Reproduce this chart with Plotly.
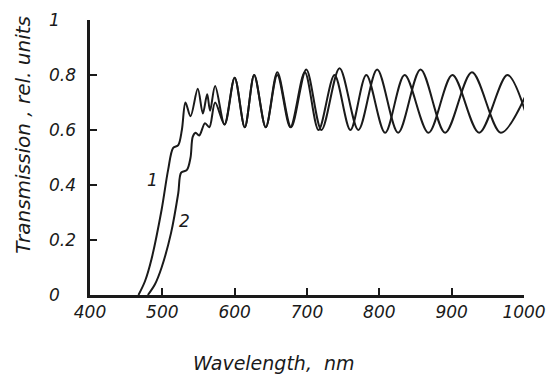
import plotly.graph_objects as go

# Curve 1
wl1 = [467, 476, 485, 499, 508, 515, 522, 527, 532, 539, 549, 556, 562, 566, 573,
       586, 600, 614, 627, 643, 659, 678, 699, 720, 745, 771, 797, 826, 857, 891,
       928, 968, 1004]
t1 = [0, 0.05, 0.13, 0.31, 0.455, 0.535, 0.545, 0.60, 0.70, 0.65, 0.75, 0.66, 0.73, 0.67, 0.76,
      0.62, 0.79, 0.61, 0.80, 0.61, 0.81, 0.61, 0.82, 0.60, 0.825, 0.60, 0.82, 0.59, 0.82, 0.59,
      0.81, 0.59, 0.735]

# Curve 2
wl2 = [480, 490, 499, 512, 522, 526, 534, 539, 542, 546, 551, 559, 565, 573, 586,
       600, 614, 627, 643, 659, 677, 697, 716, 738, 760, 782, 808, 835, 868, 901,
       938, 977, 1002]
t2 = [0, 0.04, 0.10, 0.225, 0.37, 0.445, 0.455, 0.50, 0.575, 0.59, 0.58, 0.625, 0.61, 0.70, 0.62,
      0.79, 0.61, 0.80, 0.61, 0.80, 0.61, 0.81, 0.60, 0.80, 0.60, 0.80, 0.59, 0.80, 0.59, 0.80,
      0.59, 0.80, 0.665]

x_ticks = [400, 500, 600, 700, 800, 900, 1000]
y_ticks = [0, 0.2, 0.4, 0.6, 0.8, 1]
y_tick_text = ["0", "0.2", "0.4", "0.6", "0.8", "1"]

curve_labels = ["1", "2"]
label_x = [487, 531]
label_y = [0.42, 0.27]

FONT = "DejaVu Sans"
INK = "#1a1a1a"

fig = go.Figure()
for xs, ys in [(wl1, t1), (wl2, t2)]:
    fig.add_trace(go.Scatter(
        x=xs, y=ys, mode="lines", cliponaxis=False, showlegend=False,
        line=dict(color=INK, width=2, shape="spline", smoothing=0.9),
    ))

for txt, lx, ly in zip(curve_labels, label_x, label_y):
    fig.add_annotation(x=lx, y=ly, text=txt, showarrow=False,
                       font=dict(family=FONT, size=17, color=INK, style="italic"))

# y tick labels, left-aligned as in the original
for v, s in zip(y_ticks, y_tick_text):
    fig.add_annotation(xref="paper", yref="y", x=-0.099, y=v, text=s,
                       xanchor="left", yanchor="middle", showarrow=False,
                       font=dict(family=FONT, size=17, color=INK, style="italic"))

fig.add_annotation(xref="paper", yref="paper", x=-0.155, y=0.582,
                   xanchor="center", yanchor="middle",
                   text="Transmission , rel. units", textangle=-90, showarrow=False,
                   font=dict(family=FONT, size=20, color=INK, style="italic"))

fig.add_annotation(xref="paper", yref="paper", x=0.423, y=-0.247,
                   xanchor="center", yanchor="middle",
                   text="Wavelength,  nm", showarrow=False,
                   font=dict(family=FONT, size=19, color=INK, style="italic"))

fig.update_layout(
    width=558, height=379,
    margin=dict(l=90, r=24, t=20, b=84),
    paper_bgcolor="white", plot_bgcolor="white",
    font=dict(family=FONT, size=16, color=INK, style="italic"),
    xaxis=dict(
        range=[400, 1000], tickvals=x_ticks, ticks="inside", ticklen=7, tickwidth=2,
        tickcolor=INK, showline=True, linecolor=INK, linewidth=2.5, showgrid=False,
        zeroline=False, tickfont=dict(family=FONT, size=17, style="italic"),
    ),
    yaxis=dict(
        range=[0, 1], tickvals=y_ticks, ticks="inside", ticklen=7,
        tickwidth=2, tickcolor=INK, showline=True, linecolor=INK, linewidth=2.5,
        showgrid=False, zeroline=False, showticklabels=False,
    ),
)

fig.write_html("out.html")
